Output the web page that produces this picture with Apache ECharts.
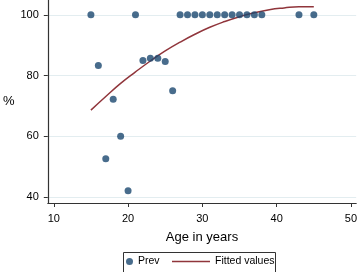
<!DOCTYPE html>
<html><head><meta charset="utf-8">
<script src="https://cdn.jsdelivr.net/npm/echarts@6/dist/echarts.min.js"></script>
<style>html,body{margin:0;padding:0;background:#fff}#c{width:360px;height:272px}</style>
</head><body><div id="c"></div>
<script>
// Observed data: age (years) and prevalence (%)
const prevAge = [15,16,17,18,19,20,21,22,23,24,25,26,27,28,29,30,31,32,33,34,35,36,37,38,43,45];
const prevVal = [100,83.3,52.6,72.2,60,42,100,85,85.7,85.7,84.6,75,100,100,100,100,100,100,100,100,100,100,100,100,100,100];
// Fitted curve
const fitAge = [15,17,19,21,23,25,27,29,31,33,35,37,39,41,43,45];
const fitVal = [68.6,73.1,77.4,81.2,84.8,88.1,91.0,93.6,95.9,97.8,99.4,100.7,101.7,102.3,102.7,102.7];
const xTicks = [10,20,30,40,50];
const yTicks = [40,60,80,100];

const chart = echarts.init(document.getElementById('c'), null, {renderer:'canvas'});
const font = 'Liberation Sans, Arial, sans-serif';
chart.setOption({
  animation:false,
  backgroundColor:'#ffffff',
  textStyle:{fontFamily:font},
  grid:{left:42,right:2,top:0,height:203,containLabel:false},
  xAxis:{
    type:'value',min:9.2,max:50.7,
    name:'Age in years',nameLocation:'middle',nameGap:28,
    nameTextStyle:{fontSize:13,color:'#000',fontFamily:font},
    axisLine:{show:true,lineStyle:{color:'#333',width:1.2}},
    axisTick:{show:true,length:4,customValues:xTicks,lineStyle:{color:'#333'}},
    axisLabel:{customValues:xTicks,margin:10,fontSize:11,color:'#000',fontFamily:font},
    splitLine:{show:false}
  },
  yAxis:{
    type:'value',min:38.0,max:104.9,
    name:'%',nameLocation:'middle',nameRotate:0,nameGap:33,
    nameTextStyle:{fontSize:13,color:'#000',fontFamily:font,padding:[8,0,0,0]},
    axisLine:{show:true,lineStyle:{color:'#333',width:1.2}},
    axisTick:{show:true,length:4,customValues:yTicks,lineStyle:{color:'#333'}},
    axisLabel:{customValues:yTicks,margin:9,fontSize:11,color:'#000',fontFamily:font},
    splitLine:{show:true,lineStyle:{color:'#e3edf0',width:1}}
  },
  legend:[
    {data:[{name:'Prev',icon:'circle'}],left:126,top:256,padding:0,itemWidth:7,itemHeight:7,itemGap:4,
     textStyle:{fontSize:10.5,color:'#000',fontFamily:font}},
    {data:[{name:'Fitted values',icon:'rect'}],left:172,top:256,padding:0,itemWidth:38,itemHeight:1.5,
     itemStyle:{color:'#90353b'},
     textStyle:{fontSize:10.5,color:'#000',fontFamily:font}}
  ],
  graphic:[{type:'rect',shape:{x:123.5,y:252.5,width:152,height:25},
    style:{fill:null,stroke:'#333',lineWidth:1}}],
  series:[
    {name:'Prev',type:'scatter',symbol:'circle',symbolSize:7,
     itemStyle:{color:'#1a476f'},
     data:prevAge.map((a,i)=>[a,prevVal[i]]),z:3},
    {name:'Fitted values',type:'line',symbol:'none',showSymbol:false,smooth:true,clip:false,
     lineStyle:{color:'#90353b',width:1.5},itemStyle:{color:'#90353b'},
     data:fitAge.map((a,i)=>[a,fitVal[i]]),z:2}
  ]
});
</script></body></html>
